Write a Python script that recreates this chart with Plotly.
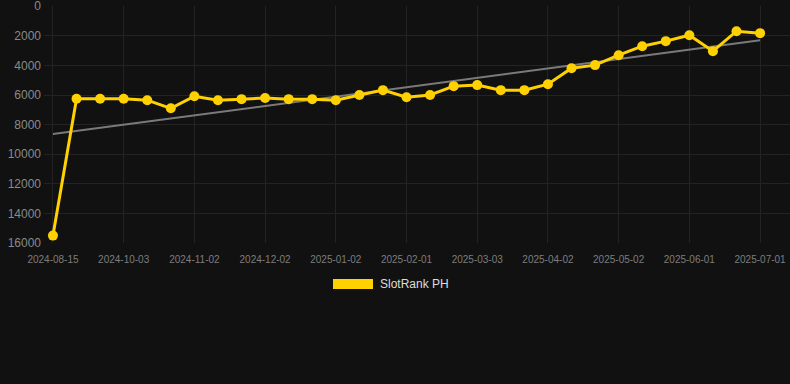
import plotly.graph_objects as go

dates = [
    "2024-08-15", "2024-09-13", "2024-09-23", "2024-10-03", "2024-10-13", "2024-10-23",
    "2024-11-02", "2024-11-12", "2024-11-22", "2024-12-02", "2024-12-12", "2024-12-22",
    "2025-01-02", "2025-01-12", "2025-01-22", "2025-02-01", "2025-02-11", "2025-02-21",
    "2025-03-03", "2025-03-13", "2025-03-23", "2025-04-02", "2025-04-12", "2025-04-22",
    "2025-05-02", "2025-05-12", "2025-05-22", "2025-06-01", "2025-06-11", "2025-06-21",
    "2025-07-01",
]
ranks = [
    15500, 6250, 6250, 6250, 6350, 6900, 6080, 6350, 6280, 6200, 6280, 6280,
    6350, 6000, 5670, 6150, 6000, 5400, 5330, 5670, 5670, 5270, 4190, 3980,
    3310, 2700, 2360, 1960, 3040, 1690, 1820,
]
trend_dates = [dates[0], dates[-1]]
trend_values = [8640, 2300]
tick_labels = dates[::3]
y_ticks = [0, 2000, 4000, 6000, 8000, 10000, 12000, 14000, 16000]
series_name = "SlotRank PH"

gold = "#FFD100"
bg = "#111111"
grid = "#232323"

fig = go.Figure()
fig.add_trace(go.Scatter(
    x=trend_dates, y=trend_values, mode="lines",
    line=dict(color="#7a7a7a", width=2), hoverinfo="skip", showlegend=False,
))
fig.add_trace(go.Scatter(
    x=dates, y=ranks, mode="lines+markers", name=series_name,
    line=dict(color=gold, width=3), marker=dict(color=gold, size=10),
    showlegend=False,
))

fig.update_layout(
    width=790, height=384,
    paper_bgcolor=bg, plot_bgcolor=bg,
    margin=dict(l=44, r=0, t=6, b=141),
    font=dict(family="Liberation Sans, Arial, sans-serif"),
    xaxis=dict(
        type="category", categoryorder="array", categoryarray=dates,
        range=[-0.38, 31.27],
        tickmode="array", tickvals=tick_labels, ticktext=tick_labels,
        showgrid=True, gridcolor=grid, gridwidth=1,
        zeroline=False, showline=False, ticks="",
        tickfont=dict(size=10, color="#7d7d7d"),
        ticklabelstandoff=9,
    ),
    yaxis=dict(
        range=[16000, -15], tickmode="array", tickvals=y_ticks,
        ticktext=[str(v) for v in y_ticks],
        showgrid=True, gridcolor=grid, gridwidth=1,
        zeroline=False, showline=False, ticks="",
        tickfont=dict(size=12, color="#8a8a8a"),
        ticklabelstandoff=2, ticklabeloverflow="allow",
    ),
    shapes=[dict(
        type="rect", xref="paper", yref="paper",
        x0=(333 - 44) / 746, x1=(373 - 44) / 746,
        y0=(384 - 141 - 289) / 237, y1=(384 - 141 - 279) / 237,
        fillcolor=gold, line=dict(width=0),
    )],
    annotations=[dict(
        text=series_name, xref="paper", yref="paper",
        x=(378 - 44) / 746, y=(384 - 141 - 284) / 237,
        xanchor="left", yanchor="middle", showarrow=False,
        font=dict(size=12, color="#dddddd"),
    )],
)

fig.write_html(
    "out.html",
    config={"displayModeBar": False},
    post_script="document.body.style.margin='0';document.body.style.background='#111111';",
)
